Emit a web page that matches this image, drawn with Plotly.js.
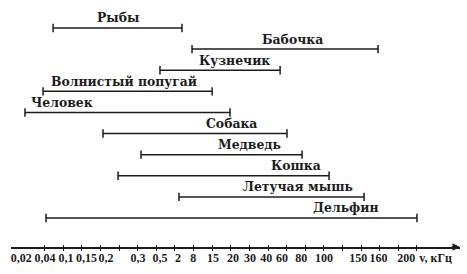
<!DOCTYPE html>
<html>
<head>
<meta charset="utf-8">
<script src="https://cdn.plot.ly/plotly-3.0.1.min.js"></script>
<style>html,body{margin:0;padding:0;background:#fff;}#chart{width:467px;height:274px;}</style>
</head>
<body>
<div id="chart"></div>
<script>
// Hearing ranges, read off the drawn (non-uniform) frequency scale.
// Scale units: tick marks are at 0,1,2,...,20.
const animals = ['Рыбы','Бабочка','Кузнечик','Волнистый попугай','Человек','Собака','Медведь','Кошка','Летучая мышь','Дельфин'];
const rangeFrom = [0.46, 7.92, 6.20, -0.08, -1.05, 3.14, 5.18, 3.95, 7.22, 0.08];
const rangeTo   = [7.38, 17.91, 12.65, 9.00, 9.96, 13.02, 13.83, 15.28, 17.16, 20.00];
const nameAt    = [3.95, 13.29, 10.18, 4.27, 0.94, 10.02, 10.98, 13.51, 13.61, 16.14];
const tickMarks = [0,1,2,3,4,5,6,7,8,9,10,11,12,13,14,15,16,17,18,19,20];
const tickLabels = ['0,02','0,04','0,1','0,15','0,2','0,3','0,5','2','8','15','20','30','40','60','80','100','150','160','200','v, кГц'];
const tickLabelAt = [-1.25, 0.03, 1.15, 2.25, 3.3, 5.02, 6.2, 7.17, 7.98, 9.05, 10.12, 11.04, 11.9, 12.75, 13.78, 15.01, 16.84, 17.93, 19.42, 21.0];

const INK = '#1c1c1c';
const NAME_FONT = '"DejaVu Serif", "Liberation Serif", serif';
const TICK_FONT = '"Liberation Serif", "DejaVu Serif", serif';
const xRange = [-1.80, 22.31];

const xs = [], ys = [];
animals.forEach((a, i) => { xs.push(rangeFrom[i], rangeTo[i], null); ys.push(i, i, null); });

const trace = {
  type: 'scatter', mode: 'lines+markers', x: xs, y: ys,
  line: {color: INK, width: 1.5},
  marker: {symbol: 'line-ns-open', size: 6, color: INK, line: {color: INK, width: 1.5}},
  cliponaxis: false, hoverinfo: 'skip', showlegend: false
};

const annotations = animals.map((a, i) => ({
  x: nameAt[i], y: i, xref: 'x', yref: 'y', yshift: 10,
  text: '<b>' + a + '</b>', showarrow: false,
  font: {family: NAME_FONT, size: 12.4, color: INK}
}));
annotations.push({
  x: xRange[1], y: 0, xref: 'x', yref: 'paper', ax: -10, ay: 0, axref: 'pixel', ayref: 'pixel',
  text: '', showarrow: true, arrowhead: 2, arrowsize: 1, arrowwidth: 1.5, arrowcolor: INK, standoff: 0
});

const layout = {
  width: 467, height: 274,
  margin: {l: 11, r: 7, t: 0, b: 27},
  paper_bgcolor: '#fff', plot_bgcolor: '#fff',
  xaxis: {range: xRange, showgrid: false, zeroline: false, showline: true, linecolor: INK, linewidth: 1.5,
          tickmode: 'array', tickvals: tickMarks, ticks: 'outside', ticklen: 2, tickwidth: 1, tickcolor: INK,
          showticklabels: false},
  xaxis2: {range: xRange, overlaying: 'x', anchor: 'y', side: 'bottom', showgrid: false, zeroline: false,
           showline: false, tickmode: 'array', tickvals: tickMarks, ticks: 'inside', ticklen: 2, tickwidth: 1,
           tickcolor: INK, showticklabels: false},
  xaxis3: {range: xRange, overlaying: 'x', anchor: 'y', side: 'bottom', showgrid: false, zeroline: false,
           showline: false, tickmode: 'array', tickvals: tickLabelAt, ticktext: tickLabels, ticks: '',
           tickangle: 0, automargin: false, ticklabelstandoff: 2,
           tickfont: {family: TICK_FONT, size: 12, color: INK, weight: 'bold'}},
  yaxis: {range: [10.374, -1.326], visible: false, showgrid: false, zeroline: false},
  annotations: annotations
};

const dummy2 = {type: 'scatter', x: [], y: [], xaxis: 'x2', yaxis: 'y', showlegend: false, hoverinfo: 'skip'};
const dummy3 = {type: 'scatter', x: [], y: [], xaxis: 'x3', yaxis: 'y', showlegend: false, hoverinfo: 'skip'};

Plotly.newPlot('chart', [trace, dummy2, dummy3], layout, {displayModeBar: false, staticPlot: true});
</script>
</body>
</html>
